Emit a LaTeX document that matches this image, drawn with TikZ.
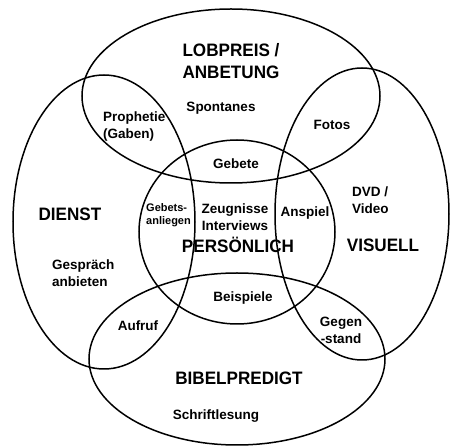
\documentclass[tikz,border=0pt]{standalone}
\usepackage{fontspec}
\setmainfont{Liberation Sans}
\newfontfamily\condfont[FakeStretch=0.95]{Liberation Sans Bold}
\usetikzlibrary{shapes.geometric}
\tikzset{
  venn/.style={draw=black, line width=1.5pt, ellipse, inner sep=0pt, fill=none},
  big/.style={font=\condfont\fontsize{18}{22}\selectfont, inner sep=0pt, align=center},
  small/.style={font=\bfseries\fontsize{13.5}{17}\selectfont, inner sep=0pt, align=center},
  tiny/.style={font=\bfseries\fontsize{11}{13.5}\selectfont, inner sep=0pt, align=left},
}
\begin{document}
\begin{tikzpicture}[x=1pt,y=-1pt]
\useasboundingbox[fill=white] (0,0) rectangle (451,446);
% ellipses
\node[venn, minimum width=298pt, minimum height=174pt] (lob) at (231,96) {};
\node[venn, minimum width=182pt, minimum height=294pt] (dienst) at (104,222) {};
\node[venn, minimum width=174pt, minimum height=292pt] (vis) at (362,214) {};
\node[venn, minimum width=296pt, minimum height=172pt] (bib) at (237,359) {};
\node[venn, minimum width=196pt, minimum height=184pt] (pers) at (237,232) {};
% big labels
\node[big] (tlob) at (231,61) {LOBPREIS /\\ANBETUNG};
\node[big] (tdienst) at (70,214) {DIENST};
\node[big] (tvis) at (383,245) {VISUELL};
\node[big] (tpers) at (238,245) {PERSÖNLICH};
\node[big] (tbib) at (239,378) {BIBELPREDIGT};
% small labels
\node[small] (spont) at (221,108) {Spontanes};
\node[small, align=left, anchor=west] (proph) at (103,127) {Prophetie\\(Gaben)};
\node[small] (fotos) at (332,125) {Fotos};
\node[small] (gebete) at (236,164) {Gebete};
\node[small, align=left, anchor=west] (dvd) at (352,200) {DVD /\\Video};
\node[tiny, anchor=west] (gebets) at (146,215) {Gebets-\\anliegen};
\node[small] (zeug) at (235,217) {Zeugnisse\\Interviews};
\node[small] (anspiel) at (305,213) {Anspiel};
\node[small, align=left, anchor=west] (gespr) at (52,273) {Gespräch\\anbieten};
\node[small] (beisp) at (243,298) {Beispiele};
\node[small] (aufruf) at (138,326) {Aufruf};
\node[small] (gegen) at (341,330) {Gegen\\-stand};
\node[small] (schrift) at (216,416) {Schriftlesung};
\end{tikzpicture}
\end{document}
